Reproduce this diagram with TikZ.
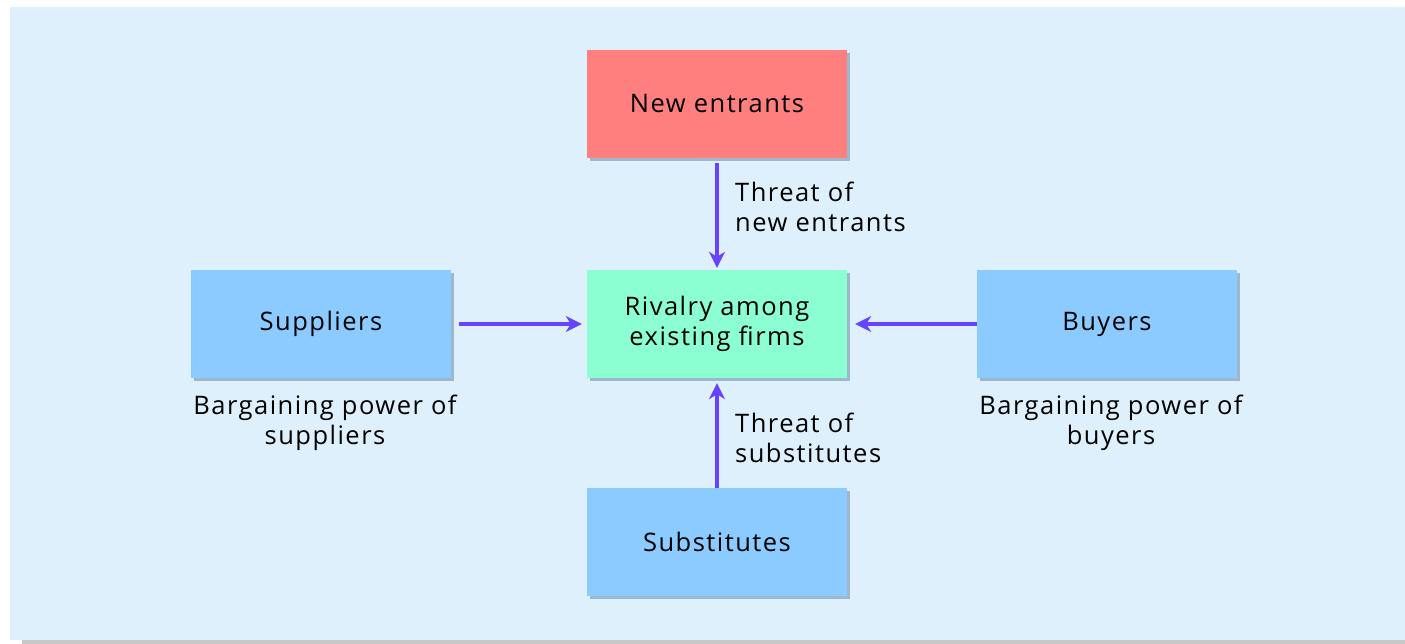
\documentclass[tikz,border=0pt]{standalone}
\usepackage{fontspec}
\setmainfont{Open Sans}[LetterSpace=5.8]
\usetikzlibrary{arrows.meta}
\definecolor{bgblue}{HTML}{DFF0FD}
\definecolor{shadowgray}{HTML}{C8C8C8}
\definecolor{boxred}{HTML}{FF7F7F}
\definecolor{boxgreen}{HTML}{8CFFD2}
\definecolor{boxblue}{HTML}{8CCBFF}
\definecolor{arrowc}{HTML}{6644FF}
\definecolor{boxshadow}{HTML}{9DB8CC}
\tikzset{
  forcebox/.style={minimum width=260pt, minimum height=108pt, inner sep=0pt, align=center,
    font=\fontsize{25.5}{30}\selectfont, text=black,
    preaction={fill=boxshadow, transform canvas={xshift=3pt,yshift=-3pt}}},
  lbl/.style={font=\fontsize{25.5}{30}\selectfont, text=black, inner sep=0pt},
  force/.style={draw=arrowc, line width=3.5pt, -{Stealth[length=16pt,width=16pt,inset=5pt]}}
}
\begin{document}
\begin{tikzpicture}[x=1pt,y=-1pt]
\useasboundingbox (0,0) rectangle (1405,644);
\fill[white] (0,0) rectangle (1405,644);
\fill[shadowgray] (22,636) rectangle (1405,644);
\fill[bgblue] (10,7) rectangle (1405,640);
\node[forcebox, fill=boxred] (new) at (717,104) {New entrants};
\node[forcebox, fill=boxgreen] (riv) at (717,324) {Rivalry among\\existing firms};
\node[forcebox, fill=boxblue] (sup) at (321,324) {Suppliers};
\node[forcebox, fill=boxblue] (buy) at (1107,324) {Buyers};
\node[forcebox, fill=boxblue] (sub) at (717,542) {Substitutes};
\draw[force] ([yshift=-5pt]new.south) -- ([yshift=2pt]riv.north);
\draw[force] (sub.north) -- ([yshift=-5pt]riv.south);
\draw[force] ([xshift=8pt]sup.east) -- ([xshift=-5pt]riv.west);
\draw[force] (buy.west) -- ([xshift=8pt]riv.east);
\node[lbl, anchor=north west, align=left] (tn) at (735,182) {Threat of\\new entrants};
\node[lbl, anchor=north west, align=left] (ts) at (735,413) {Threat of\\substitutes};
\node[lbl, anchor=north, align=center] (bs) at (325,395) {Bargaining power of\\suppliers};
\node[lbl, anchor=north, align=center] (bb) at (1111,395) {Bargaining power of\\buyers};
\end{tikzpicture}
\end{document}
